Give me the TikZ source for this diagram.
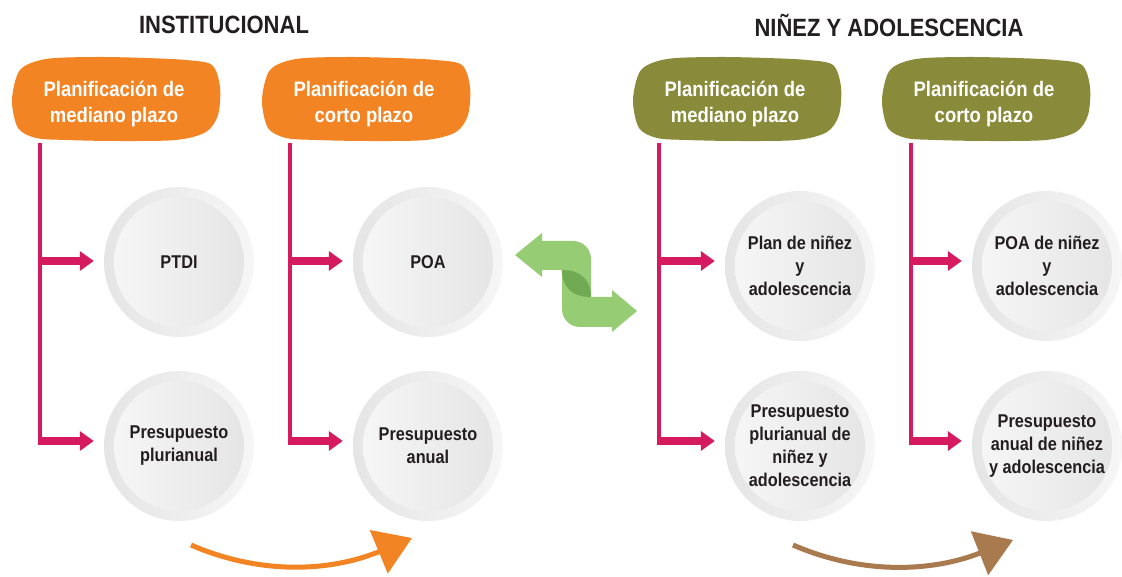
\documentclass[tikz,border=0pt]{standalone}
\usepackage{fontspec}
\setmainfont{Liberation Sans}[FakeStretch=0.88]
\usetikzlibrary{arrows.meta}

\definecolor{planorange}{RGB}{242,132,36}
\definecolor{planolive}{RGB}{138,139,58}
\definecolor{planpink}{RGB}{214,26,96}
\definecolor{planbrown}{RGB}{168,122,78}
\definecolor{swaplight}{RGB}{150,204,115}
\definecolor{swapdark}{RGB}{112,170,82}
\definecolor{ringdark}{RGB}{229,229,229}
\definecolor{ringlight}{RGB}{246,246,246}
\definecolor{innerlight}{RGB}{247,247,247}
\definecolor{innerdark}{RGB}{228,228,228}
\definecolor{inktext}{RGB}{35,31,32}

\def\ringsize{150}
\tikzset{
   titletext/.style={text=inktext, font=\bfseries\fontsize{25}{30}\selectfont},
   headtext/.style={text=white, align=center, minimum width=208pt, minimum height=78pt,
      font=\bfseries\fontsize{21}{26}\selectfont},
   ringnode/.style={circle, minimum size=\ringsize pt, left color=ringdark, right color=ringlight,
      path picture={\shade[left color=innerlight, right color=innerdark]
         (path picture bounding box.center) circle (65pt);},
      align=center, text=inktext, font=\bfseries\fontsize{18.5}{23}\selectfont},
   planline/.style={draw=planpink, line width=4pt},
   planarrow/.style={draw=planpink, line width=8pt, -{Triangle[length=14pt, width=19pt]}, shorten >=10pt},
   flowarrow/.style={line width=5pt, -{Triangle[length=36pt, width=46pt]}}
}

\begin{document}
\begin{tikzpicture}[x=1pt, y=-1pt]
\useasboundingbox (0,0) rectangle (1122,577);

% titles
\node[titletext] (tinst) at (224,25) {INSTITUCIONAL};
\node[titletext] (tnin) at (889,25) {NIÑEZ Y ADOLESCENCIA};

% headers: blob, then its text
\foreach \n/\x/\c/\t in {1/116/planorange/{Planificación de\\mediano plazo},
                         2/366/planorange/{Planificación de\\corto plazo},
                         3/737/planolive/{Planificación de\\mediano plazo},
                         4/986/planolive/{Planificación de\\corto plazo}} {
    \fill[\c, shift={(\x,100)}] plot[smooth cycle] coordinates {
        (-96,-30) (-70,-41) (-20,-43) (30,-42) (70,-40) (96,-35) (104,-13)
        (102,15) (90,32) (60,40) (0,41) (-50,40) (-80,38) (-98,28) (-104,0)};
    \node[headtext] (h\n) at (\x-2,104) {\t};
}

% documents
\node[ringnode] (ptdi)   at (179,262)  {PTDI};
\node[ringnode] (pplur)  at (179,446)  {Presupuesto\\plurianual};
\node[ringnode] (poa)    at (428,262)  {POA};
\node[ringnode] (panual) at (428,446)  {Presupuesto\\anual};
\node[ringnode] (pnin)   at (800,266)  {Plan de niñez\\y\\adolescencia};
\node[ringnode] (ppnin)  at (800,446)  {Presupuesto\\plurianual de\\niñez y\\adolescencia};
\node[ringnode] (poanin) at (1047,266) {POA de niñez\\y\\adolescencia};
\node[ringnode] (panin)  at (1047,446) {Presupuesto\\anual de niñez\\y adolescencia};

% branches
\foreach \n/\x/\up/\down in {1/40/ptdi/pplur, 2/290/poa/panual, 3/659/pnin/ppnin, 4/911/poanin/panin} {
    \coordinate (b\n) at (\x,445);
    \coordinate (u\n) at (\x,261);
    \coordinate (d\n) at (\x,441);
    \draw[planline] (h\n.south -| b\n) -- (b\n);
    \draw[planarrow] (u\n) -- (u\n -| \up.west);
    \draw[planarrow] (d\n) -- (d\n -| \down.west);
}

% exchange between both planes
\fill[swaplight] (542,241) -- (573,241) .. controls (583,241) and (591,249) .. (591,259)
    -- (591,297) .. controls (572,297) and (562,287) .. (562,270) -- (542,270) -- cycle;
\fill[swaplight] (542,233) -- (515,255) -- (542,277) -- cycle;
\fill[swaplight] (562,270) .. controls (581,270) and (591,280) .. (591,297)
    -- (612,297) -- (612,327) -- (580,327) .. controls (570,327) and (562,319) .. (562,309) -- cycle;
\fill[swaplight] (612,290) -- (637,311) -- (612,332) -- cycle;
\fill[swapdark] (562,270) .. controls (581,270) and (591,280) .. (591,297)
    .. controls (572,297) and (562,287) .. (562,270) -- cycle;

% time flow
\coordinate (o1) at (191,545);
\coordinate (o2) at (412,538);
\coordinate (r1) at (793,545);
\coordinate (r2) at (1013,540);
\draw[flowarrow, planorange] (o1) .. controls (260,575) and (330,572) .. (o2);
\draw[flowarrow, planbrown] (r1) .. controls (862,575) and (932,572) .. (r2);
\end{tikzpicture}
\end{document}
